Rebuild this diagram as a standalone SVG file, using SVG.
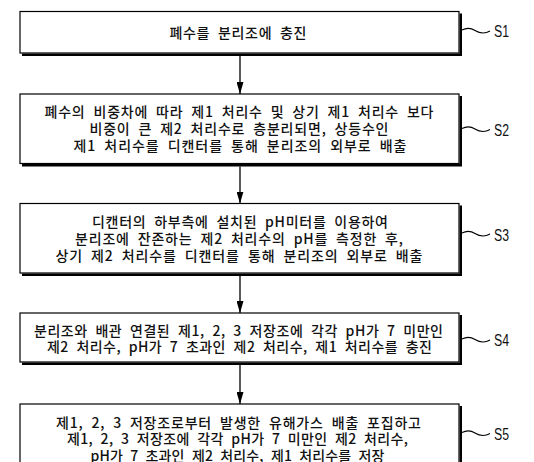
<svg xmlns="http://www.w3.org/2000/svg" width="534" height="462" viewBox="0 0 534 462">
<style>
.box{fill:#fff;stroke:#000;stroke-width:1.2}
.shd{fill:none;stroke:#000;stroke-width:2.4}
.t{font-family:"Noto Sans CJK KR","Noto Sans",sans-serif;font-size:14px;font-weight:500;fill:#111;word-spacing:4px}
.lbl{font-family:"Liberation Sans",Arial,sans-serif;font-size:16px;fill:#111}
.sq{fill:none;stroke:#000;stroke-width:1.1}
.ar{fill:none;stroke:#000;stroke-width:1.3}
</style>
<defs>
<marker id="ah" markerUnits="userSpaceOnUse" markerWidth="12" markerHeight="7" refX="12" refY="3.5" orient="auto"><path d="M0,0 L12,3.5 L0,7 z" fill="#000"/></marker>
</defs>
<rect width="534" height="462" fill="#fff"/>
<g id="connectors">
<path class="ar" d="M240,56 V94" marker-end="url(#ah)"/>
<path class="ar" d="M240,166.5 V203.5" marker-end="url(#ah)"/>
<path class="ar" d="M240,276 V313" marker-end="url(#ah)"/>
<path class="ar" d="M240,365 V404" marker-end="url(#ah)"/>
</g>
<g id="s1">
<rect class="box" x="20" y="11.5" width="439" height="41.5"/>
<path class="shd" d="M22,54.8 H460.8 V13.5"/>
<text class="t" x="169.5" y="38" textLength="137" lengthAdjust="spacing">폐수를 분리조에 충진</text>
<path class="sq" d="M462,30 c4,-2 9,-2 13,0.5 s10,3.5 15,0.5"/>
<text class="lbl" x="494" y="37" textLength="15" lengthAdjust="spacingAndGlyphs">S1</text>
</g>
<g id="s2">
<rect class="box" x="20" y="94" width="439" height="69.5"/>
<path class="shd" d="M22,165.3 H460.8 V96"/>
<text class="t" x="44.5" y="117" textLength="389" lengthAdjust="spacing">폐수의 비중차에 따라 제1 처리수 및 상기 제1 처리수 보다</text>
<text class="t" x="89.5" y="134" textLength="299" lengthAdjust="spacing">비중이 큰 제2 처리수로 층분리되면, 상등수인</text>
<text class="t" x="73.5" y="151" textLength="333" lengthAdjust="spacing">제1 처리수를 디캔터를 통해 분리조의 외부로 배출</text>
<path class="sq" d="M462,128.5 c4,-2 9,-2 13,0.5 s10,3.5 15,0.5"/>
<text class="lbl" x="494" y="136" textLength="15" lengthAdjust="spacingAndGlyphs">S2</text>
</g>
<g id="s3">
<rect class="box" x="20" y="203.5" width="439" height="69.5"/>
<path class="shd" d="M22,274.8 H460.8 V205.5"/>
<text class="t" x="92" y="227" textLength="296" lengthAdjust="spacing">디캔터의 하부측에 설치된 pH미터를 이용하여</text>
<text class="t" x="75" y="244" textLength="328" lengthAdjust="spacing">분리조에 잔존하는 제2 처리수의 pH를 측정한 후,</text>
<text class="t" x="55.5" y="261" textLength="367" lengthAdjust="spacing">상기 제2 처리수를 디캔터를 통해 분리조의 외부로 배출</text>
<path class="sq" d="M462,233 c4,-2 9,-2 13,0.5 s10,3.5 15,0.5"/>
<text class="lbl" x="494" y="240.5" textLength="15" lengthAdjust="spacingAndGlyphs">S3</text>
</g>
<g id="s4">
<rect class="box" x="20" y="313" width="439" height="49"/>
<path class="shd" d="M22,363.8 H460.8 V315"/>
<text class="t" x="34" y="335.5" textLength="409" lengthAdjust="spacing">분리조와 배관 연결된 제1, 2, 3 저장조에 각각 pH가 7 미만인</text>
<text class="t" x="47" y="352" textLength="385" lengthAdjust="spacing">제2 처리수, pH가 7 초과인 제2 처리수, 제1 처리수를 충진</text>
<path class="sq" d="M462,339 c4,-2 9,-2 13,0.5 s10,3.5 15,0.5"/>
<text class="lbl" x="494" y="346" textLength="15" lengthAdjust="spacingAndGlyphs">S4</text>
</g>
<g id="s5">
<rect class="box" x="20" y="404" width="439" height="70"/>
<path class="shd" d="M22,475.8 H460.8 V406"/>
<text class="t" x="56" y="427.5" textLength="365" lengthAdjust="spacing">제1, 2, 3 저장조로부터 발생한 유해가스 배출 포집하고</text>
<text class="t" x="67" y="444" textLength="341" lengthAdjust="spacing">제1, 2, 3 저장조에 각각 pH가 7 미만인 제2 처리수,</text>
<text class="t" x="90.5" y="461" textLength="294" lengthAdjust="spacing">pH가 7 초과인 제2 처리수, 제1 처리수를 저장</text>
<path class="sq" d="M462,432.5 c4,-2 9,-2 13,0.5 s10,3.5 15,0.5"/>
<text class="lbl" x="494" y="440" textLength="15" lengthAdjust="spacingAndGlyphs">S5</text>
</g>
</svg>
